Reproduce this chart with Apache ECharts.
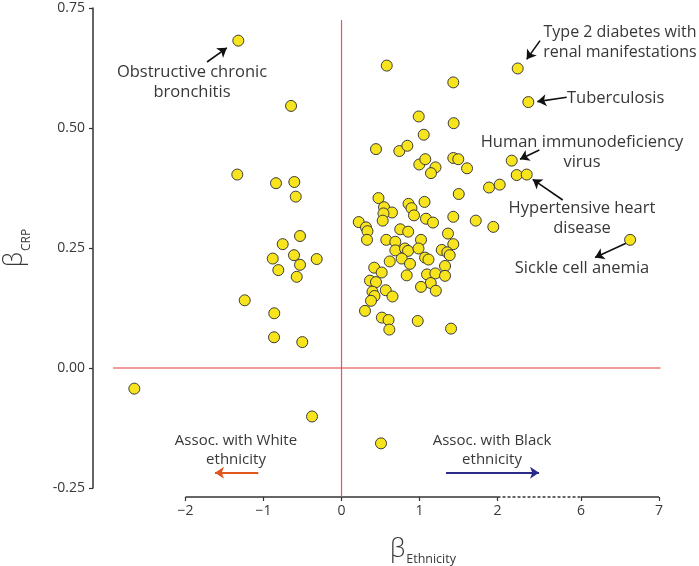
<!DOCTYPE html>
<html>
<head>
<meta charset="utf-8">
<script src="https://cdn.jsdelivr.net/npm/echarts@6/dist/echarts.min.js"></script>
<style>html,body{margin:0;padding:0;background:#fff}#c{width:699px;height:566px}</style>
</head>
<body>
<div id="c"></div>
<script>
// ---- data (β Ethnicity, β CRP) ----
const ethnicityBeta = [
  0.58, 1.433, 2.259, 2.395, 0.99, 1.438, 1.054, 0.442, 0.741, 0.844,
  2.182, 0.997, 1.074, 1.205, 1.433, 1.497, 1.609, 1.147, 2.246, 2.374,
  1.891, 2.028, 1.503, 0.474, 0.545, 0.647, 0.538, 0.528, 0.859, 0.897,
  0.929, 1.064, 1.083, 1.173, 1.433, 1.721, 1.946, 0.221, 0.314, 0.333,
  0.327, 0.753, 0.855, 0.574, 0.690, 1.019, 1.365, 1.433, 0.690, 0.814,
  0.853, 0.987, 1.285, 1.356, 1.387, 0.618, 0.772, 0.878, 1.071, 1.115,
  1.327, 0.419, 0.515, 0.836, 1.096, 1.203, 1.327, 0.365, 0.442, 1.144,
  1.019, 1.209, 0.397, 0.567, 0.654, 0.423, 0.378, 0.301, 0.517, 0.603,
  0.613, 0.977, 1.404, 0.506,
  -1.323, -0.647, -1.336, -0.840, -0.605, -0.587, -0.532, -0.754, -0.882, -0.609,
  -0.318, -0.532, -0.810, -0.574, -1.241, -0.862, -0.865, -0.503, -2.656, -0.378,
  6.63
];
const crpBeta = [
  0.630, 0.595, 0.624, 0.554, 0.524, 0.510, 0.486, 0.456, 0.452, 0.463,
  0.432, 0.424, 0.435, 0.418, 0.4375, 0.435, 0.416, 0.406, 0.402, 0.403,
  0.376, 0.382, 0.3625, 0.354, 0.335, 0.324, 0.322, 0.307, 0.342, 0.333,
  0.318, 0.346, 0.311, 0.303, 0.315, 0.307, 0.294, 0.304, 0.293, 0.285,
  0.267, 0.289, 0.284, 0.267, 0.263, 0.267, 0.280, 0.258, 0.245, 0.249,
  0.244, 0.249, 0.246, 0.241, 0.235, 0.222, 0.228, 0.217, 0.230, 0.226,
  0.2125, 0.209, 0.199, 0.193, 0.195, 0.197, 0.192, 0.182, 0.179, 0.177,
  0.169, 0.161, 0.159, 0.162, 0.149, 0.150, 0.140, 0.119, 0.105, 0.100,
  0.080, 0.098, 0.082, -0.157,
  0.682, 0.546, 0.403, 0.385, 0.3875, 0.357, 0.275, 0.258, 0.228, 0.235,
  0.227, 0.215, 0.204, 0.190, 0.141, 0.114, 0.064, 0.054, -0.043, -0.101,
  0.267
];
const xTickValues = [-2, -1, 0, 1, 2, 6, 7];

// broken x scale: the gap between 2 and 6 is shown as about one dashed unit
const BREAK_SHIFT = 2.93;
const bx = v => (v > 4 ? v - BREAK_SHIFT : v);
const ubx = v => (v > 2.6 ? v + BREAK_SHIFT : v);

const chart = echarts.init(document.getElementById('c'), null, {renderer: 'canvas'});
const FONT = '"Open Sans", Lato, sans-serif';
const TXT = '#383838';
const AXIS_OFFSET = 9;                 // px the x axis sits below the plot
const Y_MIN = -0.25, Y_MAX = 0.75, PLOT_H = 480;
const yAxisLevel = Y_MIN - AXIS_OFFSET * (Y_MAX - Y_MIN) / PLOT_H;

const pts = ethnicityBeta.map((x, i) => [bx(x), crpBeta[i]]);
const tickPos = xTickValues.map(bx);

function seg(a, b, style, z) {
  return {type: 'line', data: [a, b], symbol: 'none', clip: false, silent: true,
    lineStyle: style, z: z || 1, animation: false};
}
function arrow(from, to, color, width, size) {
  return [{coord: from, lineStyle: {color: color, width: width, type: 'solid'}, symbolSize: size}, {coord: to}];
}

const option = {
  animation: false,
  grid: {left: 93, right: 39, top: 8, height: PLOT_H, containLabel: false, outerBoundsMode: 'none'},
  xAxis: {
    type: 'value', min: -3.186, max: 4.083, offset: AXIS_OFFSET,
    axisLine: {show: false, onZero: false},
    splitLine: {show: false},
    axisTick: {show: true, customValues: tickPos, length: 4, lineStyle: {color: '#333', width: 1.2}},
    axisLabel: {customValues: tickPos, margin: 7, color: TXT, fontSize: 14, fontFamily: FONT,
      formatter: v => { const t = Math.round(ubx(v)); return t < 0 ? '\u2212' + Math.abs(t) : String(t); }}
  },
  yAxis: {
    type: 'value', min: Y_MIN, max: Y_MAX, interval: 0.25,
    axisLine: {show: true, onZero: false, lineStyle: {color: '#333', width: 1.5}},
    axisTick: {show: true, length: 4, lineStyle: {color: '#333', width: 1.2}},
    splitLine: {show: false},
    axisLabel: {margin: 8, color: TXT, fontSize: 14, fontFamily: FONT, formatter: v => v.toFixed(2)},
    name: '{b|\u03b2}{s|CRP}', nameLocation: 'middle', nameRotate: 90, nameGap: 66,
    nameTextStyle: {rich: {
      b: {fontSize: 25, fontFamily: FONT, fontWeight: 300, color: TXT, verticalAlign: 'bottom', lineHeight: 26},
      s: {fontSize: 12, fontFamily: FONT, color: TXT, verticalAlign: 'bottom', lineHeight: 14, padding: [0, 0, -6, 1]}
    }}
  },
  series: [
    seg([-2, yAxisLevel], [2, yAxisLevel], {color: '#333', width: 1.5}),
    seg([2, yAxisLevel], [bx(6), yAxisLevel], {color: '#333', width: 1.3, type: [3, 2]}),
    seg([bx(6), yAxisLevel], [bx(7), yAxisLevel], {color: '#333', width: 1.5}),
    seg([-2.93, 0], [4.09, 0], {color: '#f29b9b', width: 2}),
    seg([0, 0.725], [0, yAxisLevel], {color: '#e85555', width: 1.2}),
    {
      type: 'scatter', data: pts, symbolSize: 11, z: 5,
      itemStyle: {color: '#f7e41c', borderColor: '#3a3a3a', borderWidth: 1, opacity: 1},
      markLine: {
        silent: true, symbol: ['none', 'arrow'], symbolSize: 9, label: {show: false},
        lineStyle: {color: '#111', width: 1.6, type: 'solid'},
        data: [
          arrow([-1.724, 0.6375], [-1.47, 0.667], '#111', 1.6, 9),
          arrow([2.545, 0.682], [2.374, 0.643], '#111', 1.6, 9),
          arrow([2.887, 0.564], [2.51, 0.555], '#111', 1.6, 9),
          arrow([2.536, 0.454], [2.288, 0.435], '#111', 1.6, 9),
          arrow([2.836, 0.350], [2.451, 0.393], '#111', 1.6, 9),
          arrow([3.647, 0.260], [3.25, 0.230], '#111', 1.6, 9),
          arrow([-1.067, -0.218], [-1.622, -0.218], '#e0561c', 2, 11),
          arrow([1.34, -0.218], [2.532, -0.218], '#2b2a88', 2, 11)
        ]
      }
    }
  ]
};

function label(x, y, text, size, align, lh) {
  return {type: 'text', x: x, y: y, silent: true, z: 10,
    style: {text: text, fill: TXT, font: size + 'px ' + FONT, align: align || 'center',
      verticalAlign: 'middle', lineHeight: lh || 20}};
}
option.graphic = [
  label(192, 82, 'Obstructive chronic\nbronchitis', 16.5),
  label(620, 42, 'Type 2 diabetes with\nrenal manifestations', 16),
  label(567, 98, 'Tuberculosis', 16.5, 'left'),
  label(582, 152, 'Human immunodeficiency\nvirus', 16.5),
  label(582, 218, 'Hypertensive heart\ndisease', 16.5),
  label(582, 268, 'Sickle cell anemia', 16.5),
  label(236, 450, 'Assoc. with White\nethnicity', 15, 'center', 19),
  label(492, 450, 'Assoc. with Black\nethnicity', 15, 'center', 19),
  {type: 'text', x: 423, y: 549, silent: true, style: {
    text: '{b|\u03b2}{s|Ethnicity}', align: 'center', verticalAlign: 'middle',
    rich: {
      b: {fontSize: 25, fontFamily: FONT, fontWeight: 300, fill: TXT, verticalAlign: 'bottom', lineHeight: 26},
      s: {fontSize: 12.5, fontFamily: FONT, fill: TXT, verticalAlign: 'bottom', lineHeight: 14, padding: [0, 0, -4, 1]}
    }}}
];

chart.setOption(option);
</script>
</body>
</html>
